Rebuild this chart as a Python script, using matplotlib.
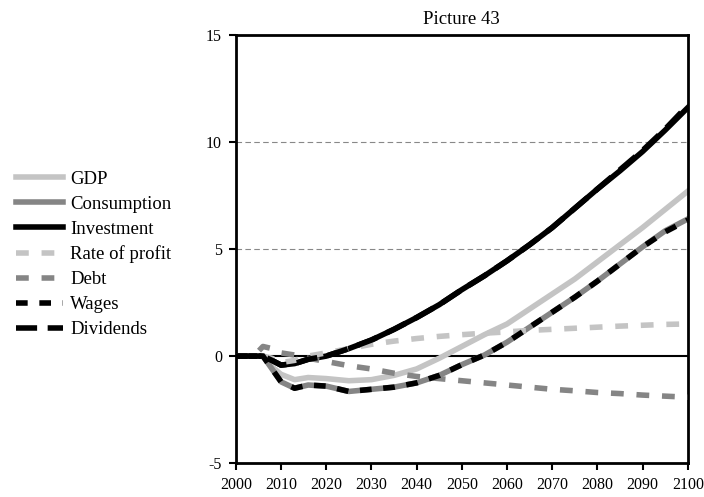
import matplotlib
matplotlib.use("Agg")
import matplotlib.pyplot as plt

plt.rcParams["font.family"] = ["Liberation Serif", "DejaVu Serif"]
plt.rcParams["axes.unicode_minus"] = False

YEARS = [2000, 2004, 2006, 2008, 2010, 2013, 2016, 2020, 2025, 2030, 2035, 2040,
         2045, 2050, 2055, 2060, 2065, 2070, 2075, 2080, 2085, 2090, 2095, 2100]

GDP = [0, 0, 0, -0.5, -0.85, -1.1, -1.0, -1.05, -1.15, -1.1, -0.9, -0.6,
       -0.1, 0.45, 1.0, 1.5, 2.2, 2.9, 3.6, 4.4, 5.2, 6.0, 6.85, 7.7]
CONSUMPTION = [0, 0, 0, -0.6, -1.2, -1.5, -1.35, -1.4, -1.65, -1.55, -1.45, -1.25,
               -0.9, -0.4, 0.05, 0.65, 1.35, 2.05, 2.75, 3.5, 4.3, 5.1, 5.85, 6.4]
INVESTMENT = [0, 0, 0, -0.2, -0.42, -0.35, -0.15, 0.0, 0.35, 0.75, 1.25, 1.8,
              2.4, 3.1, 3.75, 4.45, 5.2, 6.0, 6.9, 7.8, 8.65, 9.55, 10.55, 11.6]
RATE_OF_PROFIT = [0, 0, 0, -0.1, -0.3, -0.2, 0.0, 0.15, 0.35, 0.55, 0.7, 0.82,
                  0.92, 1.0, 1.07, 1.13, 1.2, 1.25, 1.3, 1.35, 1.4, 1.44, 1.48, 1.5]
DEBT = [0, 0, 0.45, 0.35, 0.15, 0.05, -0.1, -0.25, -0.45, -0.6, -0.8, -0.95,
        -1.05, -1.15, -1.25, -1.35, -1.45, -1.55, -1.62, -1.7, -1.75, -1.82, -1.87, -1.92]
WAGES = [0, 0, 0, -0.6, -1.2, -1.5, -1.35, -1.4, -1.65, -1.55, -1.45, -1.25,
         -0.9, -0.4, 0.05, 0.65, 1.35, 2.05, 2.75, 3.5, 4.3, 5.1, 5.8, 6.35]
DIVIDENDS = [0, 0, 0, -0.2, -0.42, -0.35, -0.15, 0.0, 0.35, 0.75, 1.25, 1.8,
             2.4, 3.1, 3.75, 4.45, 5.2, 6.0, 6.9, 7.8, 8.7, 9.6, 10.6, 11.7]

X_TICKS = list(range(2000, 2101, 10))
Y_TICKS = [-5, 0, 5, 10, 15]

LIGHT = "#c4c4c4"
MID = "#858585"
LW = 4.0

fig = plt.figure(figsize=(7.04, 4.97), dpi=100)
ax = fig.add_axes([0.335, 0.068, 0.642, 0.862])

ax.axhline(0, color="black", lw=1.5, zorder=1)
for g in (5, 10):
    ax.axhline(g, color="#888888", lw=0.8, dashes=(5, 3), zorder=1)

ax.plot(YEARS, GDP, color=LIGHT, lw=LW, label="GDP", zorder=2)
ax.plot(YEARS, CONSUMPTION, color=MID, lw=LW, label="Consumption", zorder=2)
ax.plot(YEARS, INVESTMENT, color="black", lw=LW, label="Investment", zorder=2)
ax.plot(YEARS, RATE_OF_PROFIT, color=LIGHT, lw=LW, dashes=(2.3, 2.3),
        label="Rate of profit", zorder=3)
ax.plot(YEARS, DEBT, color=MID, lw=LW, dashes=(2.3, 2.3), label="Debt", zorder=3)
ax.plot(YEARS, WAGES, color="black", lw=LW, dashes=(2.1, 2.1), label="Wages", zorder=4)
ax.plot(YEARS, DIVIDENDS, color="black", lw=LW, dashes=(3.8, 1.9),
        label="Dividends", zorder=4)

ax.set_xlim(2000, 2100)
ax.set_ylim(-5, 15)
ax.set_xticks(X_TICKS)
ax.set_yticks(Y_TICKS)
ax.tick_params(direction="out", length=5, width=1.5, labelsize=11.5, pad=5)
for s in ax.spines.values():
    s.set_linewidth(2)

ax.set_title("Picture 43", fontsize=13.5, pad=8)

handles, labels = ax.get_legend_handles_labels()
fig.legend(handles, labels, loc="upper left", bbox_to_anchor=(0.012, 0.672),
           frameon=False, fontsize=13.5, handlelength=2.5, handletextpad=0.4,
           labelspacing=0.42, borderaxespad=0)

fig.savefig("out.png", dpi=100)
